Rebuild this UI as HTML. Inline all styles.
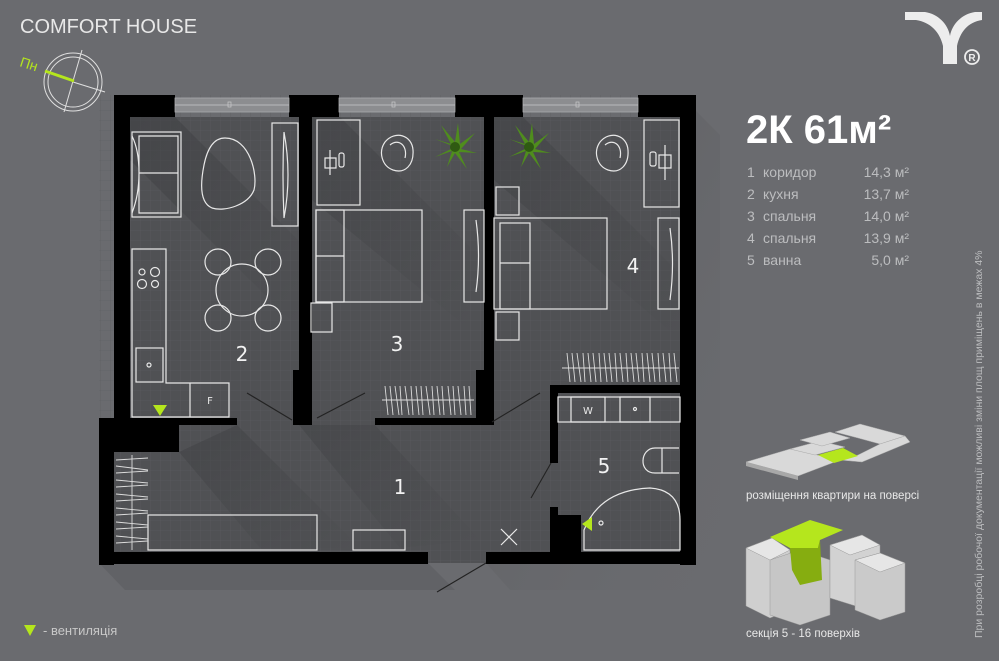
<!DOCTYPE html>
<html><head><meta charset="utf-8"><style>
html,body{margin:0;padding:0}
body{width:999px;height:661px;background:#6a6b6f;overflow:hidden;font-family:"Liberation Sans",sans-serif}
</style></head><body>
<svg width="999" height="661" viewBox="0 0 999 661" xmlns="http://www.w3.org/2000/svg" style="position:absolute;left:0;top:0">
<defs>
<pattern id="g" width="10" height="10" patternUnits="userSpaceOnUse"><path d="M10 0H0V10" fill="none" stroke="#5c5d61" stroke-width="0.6"/></pattern>
<linearGradient id="sh" x1="0" y1="0" x2="1" y2="1"><stop offset="0" stop-color="#3c3d40" stop-opacity="0.8"/><stop offset="1" stop-color="#3c3d40" stop-opacity="0"/></linearGradient>
<linearGradient id="os" x1="0" y1="0" x2="1" y2="1"><stop offset="0" stop-color="#58595c" stop-opacity="1"/><stop offset="1" stop-color="#6a6b6f" stop-opacity="0.2"/></linearGradient>
</defs>
<!-- outer shadow -->
<polygon points="695,110 720,135 720,590 510,590 486,563 695,563" fill="url(#os)" opacity="0.8"/>
<polygon points="99,563 428,563 455,590 125,590" fill="#5f6064" opacity="0.8"/>
<!-- floors -->
<rect x="114" y="117" width="582" height="446" fill="#505154"/>
<rect x="99" y="418" width="597" height="145" fill="#505154"/>
<rect x="99" y="95" width="597" height="468" fill="url(#g)"/>
<!-- shadows -->
<polygon points="130,117 175,117 300,242 300,330 130,160" fill="url(#sh)" opacity="0.7"/>
<polygon points="312,117 340,117 470,247 470,330 312,200" fill="url(#sh)" opacity="0.6"/>
<polygon points="494,117 523,117 680,274 680,340 494,180" fill="url(#sh)" opacity="0.6"/>
<polygon points="179,452 237,425 360,548 260,548" fill="url(#sh)" opacity="0.6"/>
<polygon points="299,425 375,425 480,540 400,548" fill="url(#sh)" opacity="0.5"/>
<!-- walls -->
<g fill="#000">
<rect x="114" y="95" width="61" height="22"/>
<rect x="289" y="95" width="50" height="22"/>
<rect x="455" y="95" width="68" height="22"/>
<rect x="638" y="95" width="58" height="22"/>
<rect x="114" y="95" width="16" height="330"/>
<rect x="299" y="95" width="13" height="330"/>
<rect x="293" y="370" width="19" height="55"/>
<rect x="484" y="95" width="10" height="328"/>
<rect x="476" y="370" width="18" height="53"/>
<rect x="680" y="95" width="16" height="470"/>
<rect x="99" y="418" width="138" height="7"/>
<rect x="99" y="418" width="80" height="34"/>
<rect x="99" y="418" width="15" height="147"/>
<rect x="375" y="418" width="119" height="7"/>
<rect x="99" y="552" width="329" height="12"/>
<rect x="486" y="552" width="210" height="12"/>
<rect x="550" y="385" width="146" height="8"/>
<rect x="550" y="385" width="8" height="78"/>
<polygon points="550,507 558,507 558,515 581,515 581,564 550,564"/>
</g>
<!-- windows -->
<g fill="#8c8d90" stroke="#a8a9ac" stroke-width="0.8">
<rect x="175" y="98" width="114" height="14"/>
<rect x="339" y="98" width="116" height="14"/>
<rect x="523" y="98" width="115" height="14"/>
</g>
<g stroke="#c8c9cb" stroke-width="0.7" fill="none">
<line x1="175" y1="105" x2="289" y2="105"/><line x1="339" y1="105" x2="455" y2="105"/><line x1="523" y1="105" x2="638" y2="105"/>
<rect x="228" y="102" width="3" height="5"/><rect x="392" y="102" width="3" height="5"/><rect x="576" y="102" width="3" height="5"/>
</g>
<!-- furniture -->
<g fill="none" stroke="#e8e8e8" stroke-width="1.2">
<rect x="132" y="132" width="49" height="85"/><path d="M139 136 H178 V213 H139 Z M139 173 H178 M132 136 Q139 150 139 173 Q139 195 132 213"/>
<path d="M225 138 C250 138 258 175 254 190 C248 205 225 212 212 208 C200 203 200 185 204 165 C207 150 213 138 225 138 Z"/>
<rect x="272" y="123" width="26" height="103"/><path d="M284 132 Q292 175 284 218 Q282 175 284 132"/>
<path d="M132 249 H166 V383 H229 V417 H132 Z"/><line x1="190" y1="383" x2="190" y2="417"/>
<rect x="136" y="348" width="27" height="34"/><circle cx="149" cy="365" r="2"/>
<circle cx="142" cy="272" r="3"/><circle cx="155" cy="272" r="4.5"/><circle cx="142" cy="284" r="4.5"/><circle cx="155" cy="284" r="3.5"/>
<circle cx="242" cy="290" r="26"/>
<circle cx="218" cy="262" r="13"/><circle cx="268" cy="262" r="13"/><circle cx="218" cy="318" r="13"/><circle cx="268" cy="318" r="13"/>
<rect x="317" y="120" width="43" height="85"/><path d="M330 150 V175 M325 158 H336 V168 H325 Z"/><rect x="339" y="153" width="5" height="14" rx="2"/>
<path d="M385 142 C395 130 412 135 413 150 C414 165 405 174 393 170 C382 166 378 152 385 142 M390 145 C398 138 408 145 405 158"/>
<rect x="316" y="210" width="106" height="92"/><rect x="316" y="210" width="28" height="92"/><line x1="316" y1="256" x2="344" y2="256"/>
<rect x="464" y="210" width="20" height="92"/><path d="M476 220 Q481 256 476 292"/>
<rect x="311" y="303" width="21" height="29"/>
<rect x="496" y="187" width="23" height="28"/><rect x="496" y="312" width="23" height="28"/>
<rect x="494" y="218" width="113" height="91"/><rect x="500" y="223" width="30" height="86"/><line x1="500" y1="263" x2="530" y2="263"/>
<rect x="658" y="218" width="21" height="91"/><path d="M670 228 Q675 263 670 300"/>
<rect x="644" y="120" width="35" height="87"/><path d="M665 145 V180 M659 155 H671 V168 H659 Z"/><rect x="650" y="152" width="6" height="14" rx="2"/>
<path d="M600 142 C610 130 627 135 628 150 C629 165 620 174 608 170 C597 166 593 152 600 142 M605 145 C613 138 623 145 620 158"/>
<rect x="558" y="397" width="122" height="25"/><rect x="571" y="397" width="34" height="25"/><rect x="620" y="397" width="30" height="25"/><circle cx="635" cy="409" r="1.5"/>
<path d="M679 448 H655 C640 448 638 473 655 473 H679 M662 448 V473"/>
<path d="M584 530 Q600 490 650 488 Q680 490 680 520 V550 H584 Z"/><circle cx="601" cy="523" r="2"/>
<rect x="148" y="515" width="169" height="35"/>
<rect x="353" y="530" width="52" height="20"/>
<path d="M501 529 L517 545 M517 529 L501 545"/>
</g>
<g fill="#e8e8e8" font-size="10" font-family="DejaVu Sans, sans-serif" text-anchor="middle">
<text x="210" y="404">F</text><text x="588" y="414">W</text>
</g>
<g stroke="#dcdcdc" stroke-width="0.9" fill="none">
<path d="M382 400 H474 M385 386 L388 415 M390 386 L393 415 M395 386 L399 415 M400 386 L402 415 M405 386 L409 415 M411 386 L413 415 M416 386 L419 415 M421 386 L423 415 M426 386 L430 415 M432 386 L434 415 M437 386 L440 415 M442 386 L444 415 M448 386 L451 415 M453 386 L455 415 M458 386 L461 415 M464 386 L466 415 M469 386 L471 415"/>
<path d="M562 368 H679 M567 353 L570 382 M572 353 L575 382 M577 353 L581 382 M583 353 L585 382 M588 353 L591 382 M593 353 L596 382 M599 353 L601 382 M604 353 L607 382 M609 353 L612 382 M615 353 L617 382 M620 353 L623 382 M626 353 L628 382 M631 353 L634 382 M636 353 L639 382 M642 353 L644 382 M647 353 L650 382 M652 353 L655 382 M658 353 L660 382 M663 353 L666 382 M669 353 L671 382 M674 353 L677 382"/>
<path d="M132 455 V550 M116 460 L148 458 M116 466 L148 470 M116 473 L148 471 M116 480 L148 483 M116 487 L148 485 M116 494 L148 497 M116 501 L148 499 M116 508 L148 511 M116 515 L148 513 M116 522 L148 525 M116 529 L148 527 M116 536 L148 539 M116 543 L148 541"/>
</g>
<!-- doors -->
<g stroke="#222" stroke-width="1.1">
<line x1="247" y1="393" x2="292" y2="420"/><line x1="317" y1="418" x2="365" y2="393"/><line x1="492" y1="422" x2="540" y2="393"/><line x1="531" y1="498" x2="551" y2="463"/><line x1="437" y1="592" x2="486" y2="563"/>
</g>
<!-- plants -->
<g fill="#4f8d1d">
<g transform="translate(455,147)"><path d="M0 0 L-20 -8 L-4 -3 L-14 -22 L0 -5 L3 -24 L5 -3 L20 -14 L6 2 L22 6 L4 5 L12 22 L0 6 L-8 20 L-3 4 L-20 10 Z"/><circle r="5" fill="#2f5a12"/></g>
<g transform="translate(529,147)"><path d="M0 0 L-20 -8 L-4 -3 L-14 -22 L0 -5 L3 -24 L5 -3 L20 -14 L6 2 L22 6 L4 5 L12 22 L0 6 L-8 20 L-3 4 L-20 10 Z"/><circle r="5" fill="#2f5a12"/></g>
</g>
<!-- vents -->
<polygon points="153,405 167,405 160,416" fill="#b5e61d"/>
<polygon points="582,524 592,517 592,531" fill="#b5e61d"/>
<!-- room labels -->
<g fill="#f2f2f2" font-size="20" font-family="DejaVu Sans, sans-serif" text-anchor="middle">
<text x="242" y="361">2</text><text x="397" y="351">3</text><text x="633" y="273">4</text><text x="604" y="473">5</text><text x="400" y="494">1</text>
</g>
<!-- compass -->
<g fill="none" stroke="#e0e0e0" stroke-width="1">
<circle cx="73" cy="82" r="29"/><circle cx="73" cy="82" r="25"/>
<line x1="82" y1="50" x2="64" y2="112"/><line x1="73" y1="82" x2="105" y2="92"/>
</g>
<line x1="45" y1="71" x2="74" y2="81" stroke="#b5e61d" stroke-width="3"/>
<text x="20" y="68" fill="#b5e61d" font-size="14" transform="rotate(18 26 64)">Пн</text>
<text x="20" y="33" fill="#e8e8e8" font-size="20">COMFORT HOUSE</text>
<!-- logo -->
<path d="M905 12 L925 12 C938 14 948 24 950 36 C952 24 962 14 975 12 L982 12 L982 20 C968 22 960 32 957 46 L957 64 L943 64 L943 46 C940 32 930 22 916 20 L905 20 Z" fill="#ededed"/>
<circle cx="972" cy="57" r="7" fill="none" stroke="#ededed" stroke-width="1.8"/>
<text x="972" y="61" fill="#ededed" font-size="10" font-weight="bold" text-anchor="middle">R</text>
<!-- right panel -->
<text x="746" y="143" fill="#fff" font-size="40" font-weight="bold">2К 61м²</text>
<g font-size="14" fill="#bcbdbf">
<text x="747" y="177">1</text><text x="763" y="177">коридор</text><text x="909" y="177" text-anchor="end">14,3 м²</text>
<text x="747" y="199">2</text><text x="763" y="199">кухня</text><text x="909" y="199" text-anchor="end">13,7 м²</text>
<text x="747" y="221">3</text><text x="763" y="221">спальня</text><text x="909" y="221" text-anchor="end">14,0 м²</text>
<text x="747" y="243">4</text><text x="763" y="243">спальня</text><text x="909" y="243" text-anchor="end">13,9 м²</text>
<text x="747" y="265">5</text><text x="763" y="265">ванна</text><text x="909" y="265" text-anchor="end">5,0 м²</text>
</g>
<text transform="translate(982,638) rotate(-90)" fill="#bcbdbf" font-size="10.5">При розробці робочої документації можливі зміни площ приміщень в межах 4%</text>
<!-- iso 1 -->
<g fill="#d9d9d9" stroke="#aaa" stroke-width="0.5">
<polygon points="746,462 790,449 840,460 798,476"/>
<polygon points="790,449 820,441 845,447 815,455"/>
<polygon points="800,440 830,432 850,438 822,446"/>
<polygon points="835,432 860,424 905,436 880,444 858,438"/>
<polygon points="840,460 858,455 880,444 905,436 910,442 862,462"/>
</g>
<polygon points="746,462 798,476 798,480 746,466" fill="#a8a8a8"/>
<polygon points="818,455 843,448 858,456 834,463" fill="#b5e61d"/>
<text x="746" y="499" fill="#e8e8e8" font-size="11.5">розміщення квартири на поверсі</text>
<!-- iso 2 -->
<g stroke="#999" stroke-width="0.5">
<polygon points="746,548 772,538 790,550 790,610 770,618 746,606" fill="#cfcfcf"/>
<polygon points="770,560 800,550 830,560 830,615 800,625 770,615" fill="#c6c6c6"/>
<polygon points="830,545 862,535 880,545 880,600 862,608 830,598" fill="#d2d2d2"/>
<polygon points="855,560 880,553 905,563 905,612 880,620 855,610" fill="#cacaca"/>
<polygon points="746,548 772,538 790,550 770,560" fill="#e6e6e6"/>
<polygon points="830,545 862,535 880,545 850,555" fill="#e6e6e6"/>
<polygon points="855,560 880,553 905,563 880,572" fill="#e6e6e6"/>
</g>
<polygon points="770,537 810,520 843,530 820,540 818,548 790,548" fill="#b5e61d"/>
<polygon points="790,548 818,548 820,540 822,580 800,585 792,570" fill="#86ad10"/>
<text x="746" y="637" fill="#e8e8e8" font-size="11.5">секція 5 - 16 поверхів</text>
<!-- legend -->
<polygon points="24,625 36,625 30,636" fill="#b5e61d"/>
<text x="43" y="635" fill="#c8c8c8" font-size="13">- вентиляція</text>
</svg>
</body></html>
